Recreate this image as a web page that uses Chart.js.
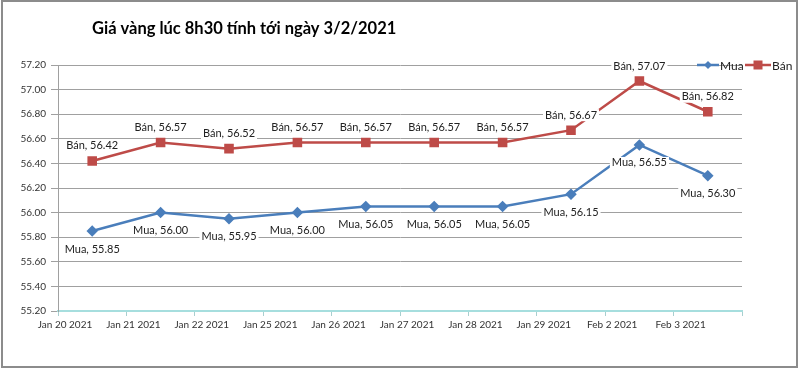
<!DOCTYPE html>
<html>
<head>
<meta charset="utf-8">
<script src="https://cdn.jsdelivr.net/npm/chart.js@4/dist/chart.umd.min.js"></script>
<style>
html,body{margin:0;padding:0;background:#fff;}
#wrap{width:800px;height:370px;}
</style>
</head>
<body>
<div id="wrap"><canvas id="c" width="800" height="370"></canvas></div>
<script>
const TITLE = 'Giá vàng lúc 8h30 tính tới ngày 3/2/2021';
const categories = ['Jan 20 2021','Jan 21 2021','Jan 22 2021','Jan 25 2021','Jan 26 2021','Jan 27 2021','Jan 28 2021','Jan 29 2021','Feb 2 2021','Feb 3 2021'];
const muaValues = [55.85, 56.00, 55.95, 56.00, 56.05, 56.05, 56.05, 56.15, 56.55, 56.30];
const banValues = [56.42, 56.57, 56.52, 56.57, 56.57, 56.57, 56.57, 56.67, 57.07, 56.82];
const seriesNames = ['Mua', 'Bán'];

const FONT = 'Lato, "Liberation Sans", sans-serif';
const BLUE = '#4a7ebb';
const RED = '#be4b48';

const toPoints = arr => arr.map((v, i) => ({x: i + 0.5, y: v}));

const framePlugin = {
  id: 'frame',
  beforeDraw(chart) {
    const ctx = chart.ctx;
    ctx.save();
    ctx.fillStyle = '#fff';
    ctx.fillRect(0, 0, chart.width, chart.height);
    ctx.strokeStyle = '#8c8c8c';
    ctx.lineWidth = 2;
    ctx.strokeRect(2, 1, 795, 366);
    ctx.restore();
  },
  afterDraw(chart) {
    const ctx = chart.ctx;
    ctx.save();
    // title
    ctx.fillStyle = '#000';
    ctx.font = 'bold 16.5px ' + FONT;
    ctx.textBaseline = 'alphabetic';
    ctx.textAlign = 'left';
    ctx.fillText(TITLE, 92, 34);
    // legend
    const y = 65;
    const items = [{x: 697, w: 22}, {x: 745, w: 26}];
    ctx.font = '12px ' + FONT;
    ctx.textBaseline = 'middle';
    chart.data.datasets.forEach((ds, i) => {
      const it = items[i];
      ctx.strokeStyle = ds.borderColor;
      ctx.lineWidth = 2.5;
      ctx.beginPath();
      ctx.moveTo(it.x, y);
      ctx.lineTo(it.x + it.w, y);
      ctx.stroke();
      ctx.fillStyle = ds.pointBackgroundColor;
      const cx = it.x + it.w / 2;
      if (ds.pointStyle === 'rectRot') {
        ctx.beginPath();
        ctx.moveTo(cx, y - 4); ctx.lineTo(cx + 4, y); ctx.lineTo(cx, y + 4); ctx.lineTo(cx - 4, y);
        ctx.closePath(); ctx.fill();
      } else {
        ctx.fillRect(cx - 4.5, y - 4.5, 9, 9);
      }
      ctx.fillStyle = '#222';
      ctx.textAlign = 'left';
      ctx.fillText(ds.label, it.x + it.w + 1, y + 1);
    });
    ctx.restore();
  }
};

const labelPlugin = {
  id: 'pointLabels',
  afterDatasetsDraw(chart) {
    const ctx = chart.ctx;
    ctx.save();
    ctx.font = '11px ' + FONT;
    ctx.textAlign = 'center';
    ctx.textBaseline = 'middle';
    chart.data.datasets.forEach((ds, di) => {
      const meta = chart.getDatasetMeta(di);
      meta.data.forEach((pt, i) => {
        const txt = ds.label + ', ' + ds.data[i].y.toFixed(2);
        const w = ctx.measureText(txt).width;
        const ty = di === 0 ? pt.y + 18 : pt.y - 15;
        ctx.fillStyle = '#fff';
        ctx.fillRect(pt.x - w / 2 - 2, ty - 6, w + 4, 12);
        ctx.fillStyle = '#222';
        ctx.fillText(txt, pt.x, ty);
      });
    });
    ctx.restore();
  }
};

new Chart(document.getElementById('c'), {
  type: 'line',
  data: {
    datasets: [
      {
        label: seriesNames[0],
        data: toPoints(muaValues),
        borderColor: BLUE,
        backgroundColor: BLUE,
        pointBackgroundColor: BLUE,
        pointBorderColor: BLUE,
        pointStyle: 'rectRot',
        pointRadius: 4,
        borderWidth: 2.5,
        tension: 0
      },
      {
        label: seriesNames[1],
        data: toPoints(banValues),
        borderColor: RED,
        backgroundColor: RED,
        pointBackgroundColor: RED,
        pointBorderColor: RED,
        pointStyle: 'rect',
        pointRadius: 5,
        borderWidth: 2.5,
        tension: 0
      }
    ]
  },
  options: {
    responsive: false,
    animation: false,
    layout: {padding: {top: 65, right: 58, left: 0, bottom: 29}},
    plugins: {legend: {display: false}, title: {display: false}, tooltip: {enabled: false}},
    scales: {
      x: {
        type: 'linear',
        min: 0,
        max: 10,
        afterFit: s => { s.height = 30; },
        ticks: {
          stepSize: 1,
          autoSkip: false,
          maxRotation: 0,
          labelOffset: 7,
          padding: 3,
          color: '#333',
          font: {family: FONT, size: 10},
          callback: v => categories[v] ?? ''
        },
        grid: {drawOnChartArea: false, drawTicks: true, tickLength: 5, color: '#a8cfcf'},
        border: {color: '#a6dede', width: 2}
      },
      y: {
        min: 55.2,
        max: 57.2,
        afterFit: s => { s.width = 58; },
        ticks: {
          stepSize: 0.2,
          padding: 5,
          color: '#333',
          font: {family: FONT, size: 10},
          callback: v => Number(v).toFixed(2)
        },
        grid: {color: '#a0a0a0', lineWidth: 1, tickLength: 7},
        border: {color: '#a0a0a0', width: 1}
      }
    }
  },
  plugins: [framePlugin, labelPlugin]
});
</script>
</body>
</html>
